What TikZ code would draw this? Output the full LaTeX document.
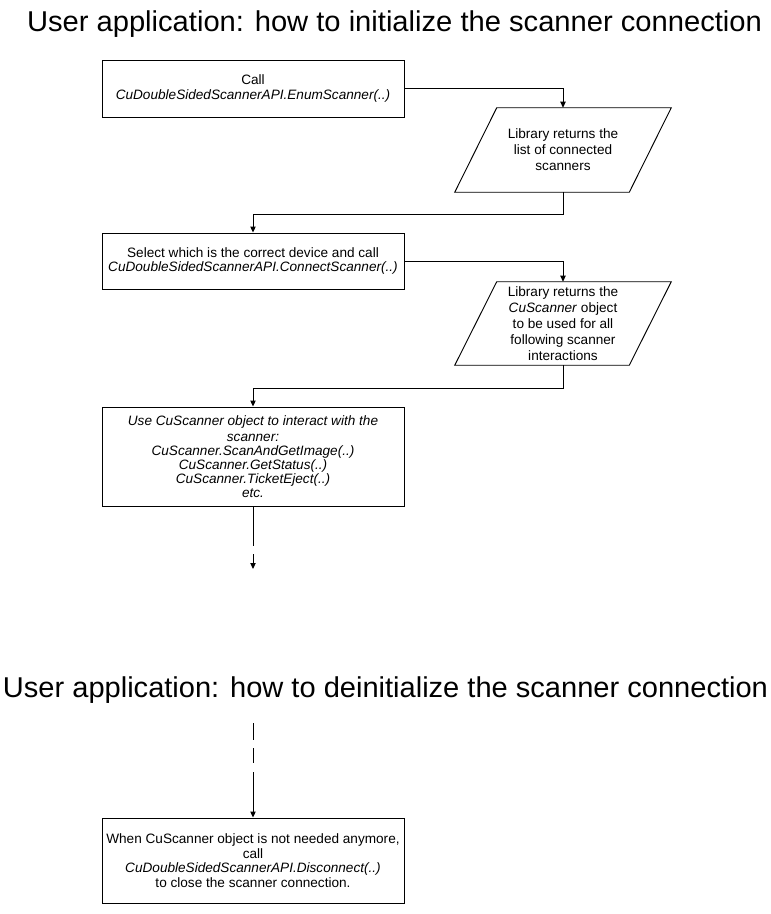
\documentclass[tikz,border=0pt]{standalone}
\usepackage{fontspec}
\usepackage{graphicx}
\setmainfont{Liberation Sans}
\usetikzlibrary{calc,arrows.meta}
\begin{document}
\begin{tikzpicture}[x=0.75pt,y=-0.75pt,
  box/.style={draw, line width=0.7pt, minimum width=226.5pt, align=center, inner sep=2pt, font=\fontsize{10.2}{11}\selectfont},
  para/.style={minimum width=130.5pt, align=center, inner sep=0pt, font=\fontsize{10.2}{12}\selectfont},
  arr/.style={-{Triangle[length=4.5pt,width=4pt]}, line width=0.7pt},
  ln/.style={line width=0.7pt},
  ttl/.style={anchor=base, font=\fontsize{21.5}{24}\selectfont, inner sep=0pt}]
\useasboundingbox (0,0) rectangle (771,914);
\node[ttl] (t1) at (394.5,31) {\resizebox{551.25pt}{\height}{User application: how to initialize the scanner connection}};
\node[ttl] (t2) at (385.5,697) {\resizebox{573.75pt}{\height}{User application: how to deinitialize the scanner connection}};

\node[box, minimum height=42.75pt] (b1) at (253,88.5) {Call\\\textit{CuDoubleSidedScannerAPI.EnumScanner(..)}};
\node[para, minimum height=63pt] (p1) at (563,150) {Library returns the\\list of connected\\scanners};
\draw[ln] ($(p1.north west)+(21,0)$) -- ($(p1.north east)+(21,0)$) -- ($(p1.south east)+(-21,0)$) -- ($(p1.south west)+(-21,0)$) -- cycle;

\node[box, minimum height=42pt] (b2) at (253,261) {Select which is the correct device and call\\\textit{CuDoubleSidedScannerAPI.ConnectScanner(..)}};
\node[para, minimum height=62.25pt] (p2) at (563,323.5) {Library returns the\\\textit{CuScanner} object\\to be used for all\\following scanner\\interactions};
\draw[ln] ($(p2.north west)+(21,0)$) -- ($(p2.north east)+(21,0)$) -- ($(p2.south east)+(-21,0)$) -- ($(p2.south west)+(-21,0)$) -- cycle;

\node[box, minimum height=74.25pt, font=\fontsize{10.2}{10.5}\selectfont\itshape] (b3) at (253,456.5) {Use CuScanner object to interact with the\\[1.5pt]scanner:\\CuScanner.ScanAndGetImage(..)\\CuScanner.GetStatus(..)\\CuScanner.TicketEject(..)\\etc.};

\coordinate (e1) at (253,546);
\coordinate (e2) at (253,554);
\coordinate (e3) at (253,569);

\node[box, minimum height=63.75pt] (b4) at (253,860.5) {When CuScanner object is not needed anymore,\\call\\\textit{CuDoubleSidedScannerAPI.Disconnect(..)}\\to close the scanner connection.};

\coordinate (d1) at (253,723);
\coordinate (d2) at (253,740);
\coordinate (d3) at (253,748);
\coordinate (d4) at (253,763);
\coordinate (d5) at (253,772);

\draw[arr] (b1.east) -| (p1.north);
\draw[arr] (p1.south) -- ++(0,22) -| (b2.north);
\draw[arr] (b2.east) -| (p2.north);
\draw[arr] (p2.south) -- ++(0,23) -| (b3.north);
\draw[ln] (b3.south) -- (e1);
\draw[arr] (e2) -- (e3);
\draw[ln] (d1) -- (d2);
\draw[ln] (d3) -- (d4);
\draw[arr] (d5) -- (b4.north);
\end{tikzpicture}
\end{document}
